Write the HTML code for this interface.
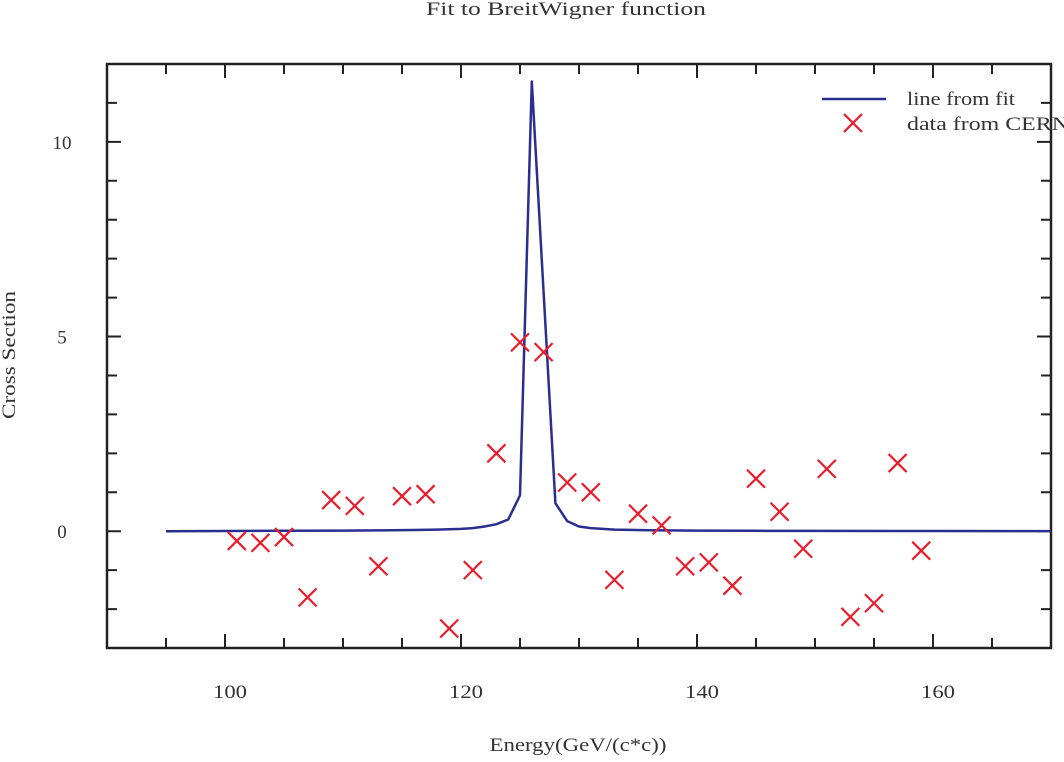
<!DOCTYPE html>
<html><head><meta charset="utf-8"><style>
body{margin:0;background:#fff;overflow:hidden;}
svg text{font-family:"Liberation Serif",serif;fill:#333;}
</style></head><body>
<svg id="chart" width="1064" height="757" xmlns="http://www.w3.org/2000/svg">
<text x="566" y="15" font-size="19" text-anchor="middle" textLength="280" lengthAdjust="spacingAndGlyphs">Fit to BreitWigner function</text>
<text x="578" y="751" font-size="19" text-anchor="middle" textLength="177" lengthAdjust="spacingAndGlyphs">Energy(GeV/(c*c))</text>
<text x="15" y="355" font-size="19" text-anchor="middle" textLength="128" lengthAdjust="spacingAndGlyphs" transform="rotate(-90 15 355)">Cross Section</text>
<g id="axes"></g>
<g id="series"></g>
<g id="legend">
<line x1="822" y1="99" x2="886" y2="99" stroke="#2a2f8f" stroke-width="2.5"/>
<text x="907" y="105" font-size="19" textLength="108" lengthAdjust="spacingAndGlyphs">line from fit</text>
<path d="M844,114 L862,132 M862,114 L844,132" stroke="#ea1c2b" stroke-width="2.2"/>
<text x="907" y="130" font-size="19" textLength="162" lengthAdjust="spacingAndGlyphs">data from CERN</text>
</g>
</svg>
<script>
const dataX=[101,103,105,107,109,111,113,115,117,119,121,123,125,127,129,131,133,135,137,139,141,143,145,147,149,151,153,155,157,159];
const dataY=[-0.25,-0.3,-0.15,-1.7,0.8,0.65,-0.9,0.9,0.95,-2.5,-1.0,2.0,4.85,4.6,1.25,1.0,-1.25,0.45,0.15,-0.9,-0.8,-1.4,1.35,0.5,-0.45,1.6,-2.2,-1.85,1.75,-0.5];
const fitX=[95,100,105,110,113,116,118,120,121,122,123,124,125,126,128,129,130,131,133,136,140,145,150,160,170];
const fitY=[0,0.005,0.01,0.015,0.02,0.03,0.04,0.06,0.08,0.12,0.18,0.3,0.92,11.55,0.72,0.26,0.12,0.08,0.04,0.025,0.015,0.01,0.008,0.004,0.003];
const xTicksMajor=[100,120,140,160];
const yTicksMajor=[0,5,10];
const X0=90,X1=170,Y0=-3,Y1=12;
const L=107,R=1051,T=64,B=648;
const sx=v=>L+(v-X0)/(X1-X0)*(R-L);
const sy=v=>B-(v-Y0)/(Y1-Y0)*(B-T);
const NS="http://www.w3.org/2000/svg";
const axes=document.getElementById('axes'),series=document.getElementById('series');
function mk(tag,attrs,parent){const e=document.createElementNS(NS,tag);for(const k in attrs)e.setAttribute(k,attrs[k]);parent.appendChild(e);return e;}
const frame=mk('rect',{x:L,y:T,width:R-L,height:B-T,fill:'none',stroke:'#222','stroke-width':2.5},axes);


for(let v=X0+5;v<X1;v+=5){
  const major=xTicksMajor.includes(v);const len=major?14:10;const x=sx(v);
  const t=mk('path',{d:`M${x},${B} V${B-len} M${x},${T} V${T+len}`,stroke:'#222','stroke-width':2},axes);
  
  
}
xTicksMajor.forEach(v=>{
  const t=mk('text',{x:sx(v)+5,y:698,'font-size':19,'text-anchor':'middle',textLength:34,lengthAdjust:'spacingAndGlyphs'},axes);t.textContent=v;
  
  
});
for(let v=Y0+1;v<Y1;v+=1){
  const major=yTicksMajor.includes(v);const len=major?14:10;const y=sy(v);
  const t=mk('path',{d:`M${L},${y} H${L+len} M${R},${y} H${R-len}`,stroke:'#222','stroke-width':2},axes);
  
  
}
yTicksMajor.forEach(v=>{
  const t=mk('text',{x:62,y:sy(v)+7,'font-size':19,'text-anchor':'middle'},axes);t.textContent=v;
  
  
});
const pts=fitX.map((x,i)=>sx(x)+','+sy(fitY[i])).join(' ');
const line=mk('polyline',{points:pts,fill:'none',stroke:'#2a2f8f','stroke-width':2.5,'stroke-linejoin':'round'},series);


dataX.forEach((x,i)=>{
  const cx=sx(x),cy=sy(dataY[i]),s=9;
  const p=mk('path',{d:`M${cx-s},${cy-s} L${cx+s},${cy+s} M${cx+s},${cy-s} L${cx-s},${cy+s}`,stroke:'#ea1c2b','stroke-width':2.2},series);
  
  
});
</script>
</body></html>
